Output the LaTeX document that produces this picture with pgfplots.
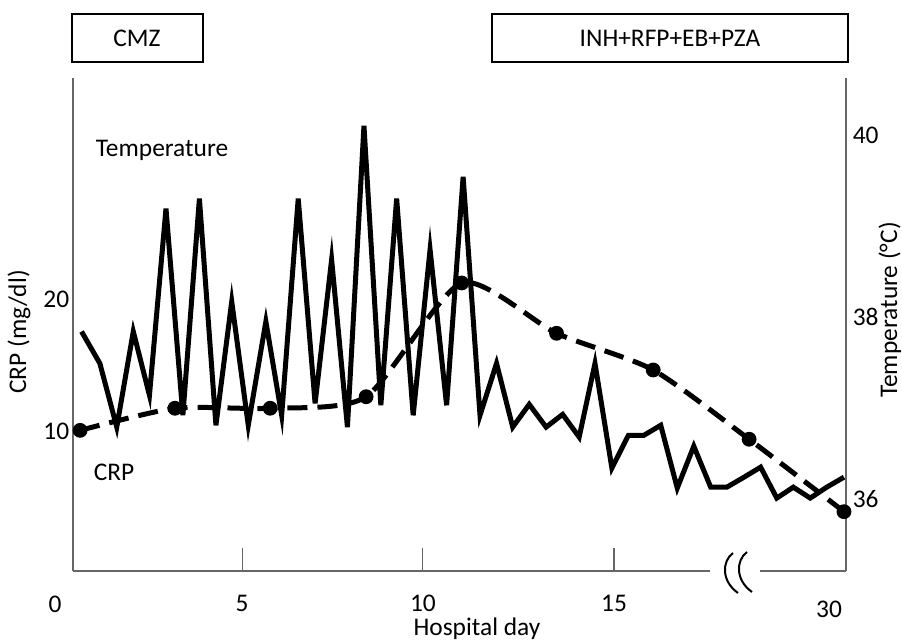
\documentclass[border=0pt]{standalone}
\usepackage{fontspec}
\setmainfont{Carlito}
\usepackage{pgfplots}
\pgfplotsset{compat=1.18}

\begin{document}
\fontsize{12.7}{15}\selectfont
\begin{tikzpicture}
\useasboundingbox (0,0) rectangle (451pt,321.5pt);

\pgfplotsset{
  common/.style={
    scale only axis, width=386.5pt, height=246.5pt,
    at={(36.5pt,36pt)}, anchor=south west,
    xmin=-0.028, xmax=21.486, clip=false,
    /pgf/number format/assume math mode=true,
  },
}

% temperature, right axis
\begin{axis}[common,
  ymin=35.209, ymax=40.626,
  axis x line=none, axis y line*=right,
  y axis line style={black!60, line width=0.6pt},
  ytick={36,38,40}, ytick style={draw=none},
  yticklabel style={xshift=-1pt},
]
\addplot[black, line width=2.5pt, line join=miter] coordinates {
  (0.21,37.84) (0.72,37.49) (1.19,36.79) (1.65,37.84) (2.10,37.14)
  (2.56,39.19) (3.03,36.92) (3.49,39.30) (3.95,36.81) (4.39,38.17)
  (4.85,36.81) (5.34,37.95) (5.78,36.92) (6.24,39.30) (6.71,37.05)
  (7.17,38.63) (7.61,36.79) (8.07,40.10) (8.54,37.03) (8.98,39.30)
  (9.44,36.92) (9.91,38.74) (10.37,37.03) (10.83,39.54) (11.30,36.92)
  (11.76,37.49) (12.21,36.79) (12.67,37.04) (13.14,36.79) (13.60,36.93)
  (14.06,36.68) (14.50,37.49) (14.97,36.34) (15.43,36.70) (15.86,36.70)
  (16.33,36.81) (16.79,36.12) (17.25,36.58) (17.72,36.13) (18.17,36.13)
  (18.65,36.24) (19.11,36.35) (19.56,36.01) (20.02,36.13) (20.49,36.01)
  (20.95,36.13) (21.43,36.24)
};
\end{axis}

% CRP, left axis
\begin{axis}[common,
  ymin=-0.52, ymax=36.71,
  axis y line*=left, axis x line*=bottom,
  x axis line style={draw=none},
  y axis line style={black!60, line width=0.6pt},
  ytick={10,20}, ytick style={draw=none},
  yticklabel style={xshift=2.5pt},
  xtick={4.68,9.71,15.03}, xticklabels={5,10,15},
  tick align=inside, major tick length=11.5pt,
  xtick style={black!60, line width=0.6pt},
  xticklabel style={anchor=center, yshift=-16pt},
]
\addplot[black, line width=2.5pt, dash pattern=on 10pt off 5pt, smooth, tension=0.4,
  mark=*, mark size=3.4pt, mark options={solid, line width=0.6pt}] coordinates {
  (0.17,10.1) (2.81,11.77) (5.46,11.77) (8.13,12.64) (10.79,21.23)
  (13.43,17.43) (16.12,14.66) (18.79,9.43) (21.43,3.96)
};
\end{axis}

\begin{scope}[x=0.5pt, y=-0.5pt, shift={(0pt,321.5pt)}]
  \draw[black!60, line width=0.6pt] (73,571) -- (710,571) (760,571) -- (846,571);
  \draw[black, line width=1pt]
    (733,553) .. controls (722,561) and (721,581) .. (738,593)
    (747,552) .. controls (736,560) and (735,580) .. (752,592);
  \draw[black, line width=1.2pt] (72,14) rectangle (203,62) (492,14) rectangle (848,62);
  \node at (137,38) {CMZ};
  \node at (670,38) {INH+RFP+EB+PZA};
  \node at (162,150) {Temperature};
  \node at (114,472) {CRP};
  \node at (55,604) {0};
  \node at (829,609) {30};
  \node at (477,629) {Hospital day};
  \node[rotate=90] at (19,332) {CRP (mg/dl)};
  \node[rotate=90] at (890,310) {Temperature (°C)};
\end{scope}
\end{tikzpicture}
\end{document}
